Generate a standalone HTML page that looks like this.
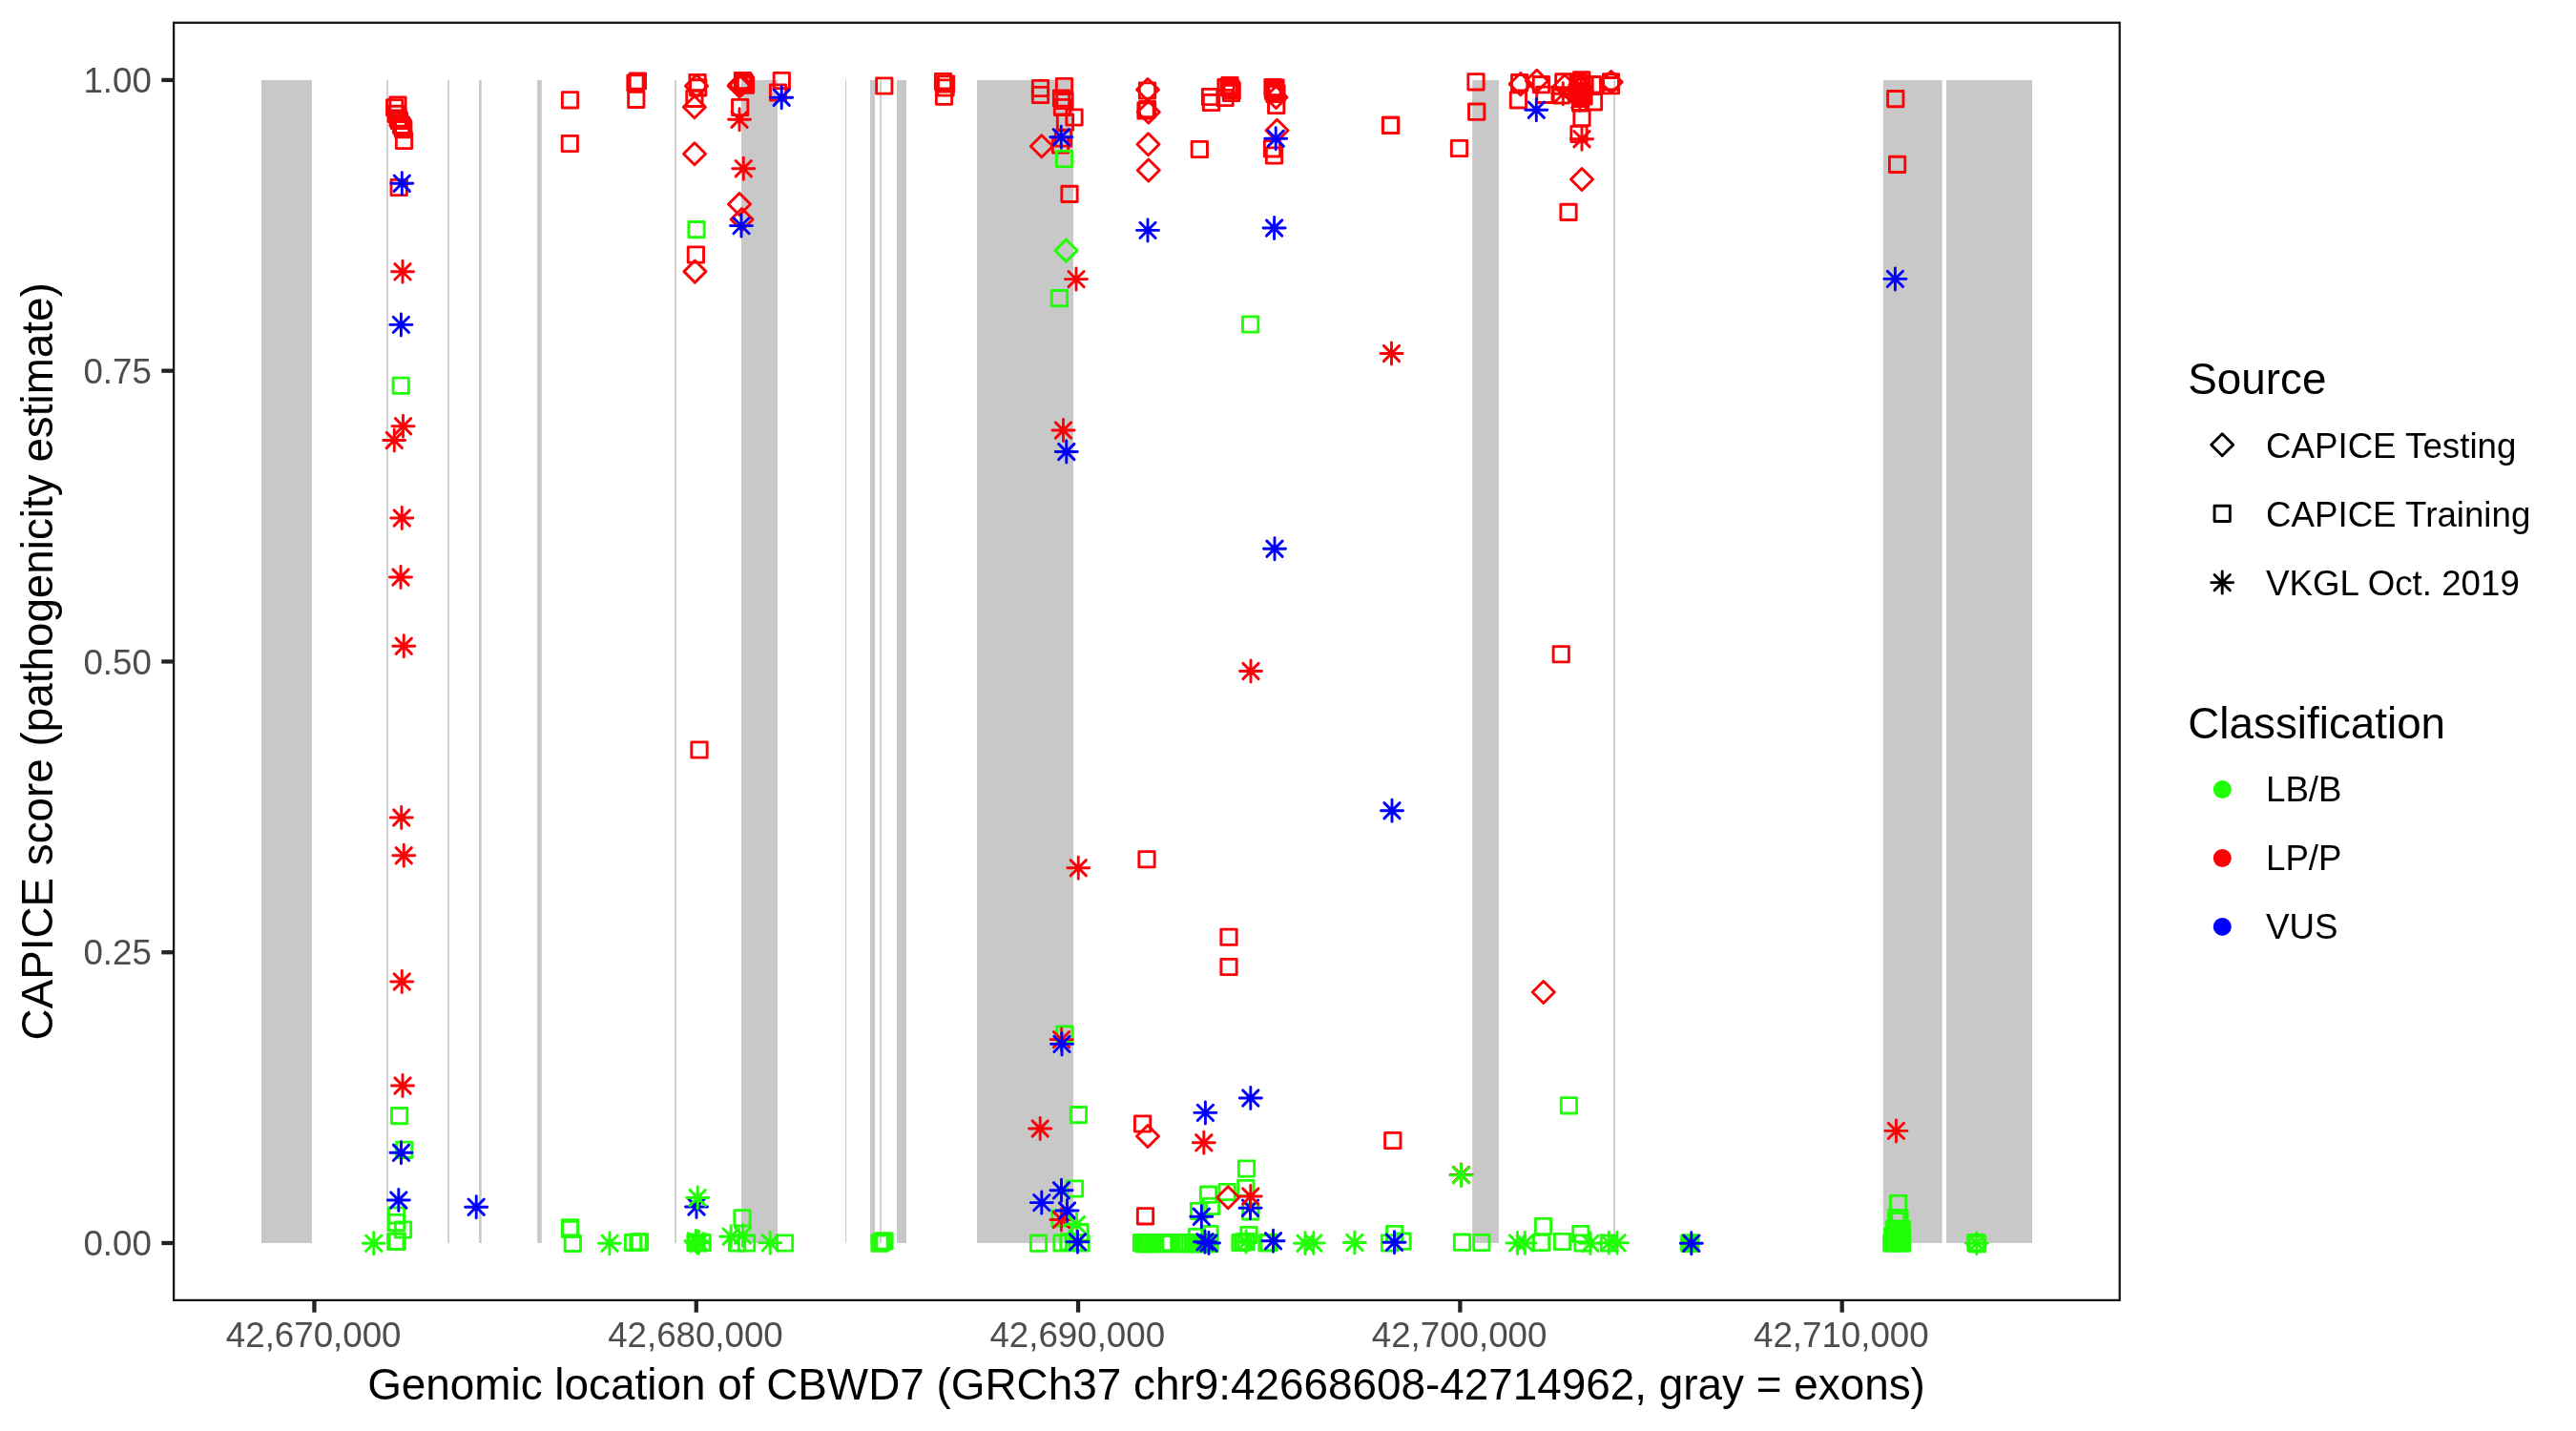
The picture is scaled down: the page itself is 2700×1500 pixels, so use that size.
<!DOCTYPE html>
<html lang="en"><head><meta charset="utf-8"><title>CAPICE score - CBWD7</title><style>html,body{margin:0;padding:0;background:#fff}body{width:2700px;height:1500px;overflow:hidden}</style></head><body>
<svg width="2700" height="1500" viewBox="0 0 2700 1500" style="display:block;will-change:transform">
<rect width="2700" height="1500" fill="#ffffff"/>
<g fill="#c8c8c8">
<rect x="274.00" y="83.90" width="52.90" height="1219.10"/>
<rect x="405.20" y="83.90" width="1.60" height="1219.10"/>
<rect x="469.20" y="83.90" width="1.60" height="1219.10"/>
<rect x="502.10" y="83.90" width="2.60" height="1219.10"/>
<rect x="563.20" y="83.90" width="4.60" height="1219.10"/>
<rect x="707.20" y="83.90" width="1.60" height="1219.10"/>
<rect x="777.00" y="83.90" width="38.00" height="1219.10"/>
<rect x="886.10" y="83.90" width="1.00" height="1219.10"/>
<rect x="912.00" y="83.90" width="5.00" height="1219.10"/>
<rect x="922.30" y="83.90" width="1.60" height="1219.10"/>
<rect x="940.00" y="83.90" width="10.00" height="1219.10"/>
<rect x="1024.00" y="83.90" width="101.00" height="1219.10"/>
<rect x="1543.20" y="83.90" width="27.80" height="1219.10"/>
<rect x="1691.20" y="83.90" width="1.70" height="1219.10"/>
<rect x="1973.80" y="83.90" width="61.80" height="1219.10"/>
<rect x="2040.00" y="83.90" width="90.00" height="1219.10"/>
</g>
<g stroke-width="2.9" stroke-linecap="round" stroke-linejoin="round">
<rect x="412.10" y="396.10" width="16.30" height="16.30" fill="none" stroke="#21ff06"/>
<rect x="1628.10" y="677.60" width="16.30" height="16.30" fill="none" stroke="#fb0207"/>
<rect x="724.85" y="777.85" width="16.30" height="16.30" fill="none" stroke="#fb0207"/>
<rect x="1193.85" y="892.60" width="16.30" height="16.30" fill="none" stroke="#fb0207"/>
<rect x="1279.85" y="974.10" width="16.30" height="16.30" fill="none" stroke="#fb0207"/>
<rect x="1279.85" y="1005.35" width="16.30" height="16.30" fill="none" stroke="#fb0207"/>
<rect x="657.85" y="78.85" width="16.30" height="16.30" fill="none" stroke="#fb0207"/>
<rect x="660.25" y="76.85" width="16.30" height="16.30" fill="none" stroke="#fb0207"/>
<rect x="658.65" y="96.25" width="16.30" height="16.30" fill="none" stroke="#fb0207"/>
<rect x="721.85" y="232.45" width="16.30" height="16.30" fill="none" stroke="#21ff06"/>
<rect x="721.25" y="258.85" width="16.30" height="16.30" fill="none" stroke="#fb0207"/>
<rect x="1102.25" y="304.45" width="16.30" height="16.30" fill="none" stroke="#21ff06"/>
<rect x="1112.85" y="195.25" width="16.30" height="16.30" fill="none" stroke="#fb0207"/>
<rect x="1302.45" y="331.85" width="16.30" height="16.30" fill="none" stroke="#21ff06"/>
<rect x="1449.45" y="123.25" width="16.30" height="16.30" fill="none" stroke="#fb0207"/>
<rect x="1635.85" y="214.25" width="16.30" height="16.30" fill="none" stroke="#fb0207"/>
<rect x="1978.65" y="95.45" width="16.30" height="16.30" fill="none" stroke="#fb0207"/>
<rect x="1980.45" y="164.25" width="16.30" height="16.30" fill="none" stroke="#fb0207"/>
<rect x="408.85" y="101.85" width="16.30" height="16.30" fill="none" stroke="#fb0207"/>
<rect x="405.55" y="104.65" width="16.30" height="16.30" fill="none" stroke="#fb0207"/>
<rect x="407.05" y="111.25" width="16.30" height="16.30" fill="none" stroke="#fb0207"/>
<rect x="409.05" y="115.95" width="16.30" height="16.30" fill="none" stroke="#fb0207"/>
<rect x="410.35" y="118.35" width="16.30" height="16.30" fill="none" stroke="#fb0207"/>
<rect x="412.35" y="123.05" width="16.30" height="16.30" fill="none" stroke="#fb0207"/>
<rect x="413.85" y="125.35" width="16.30" height="16.30" fill="none" stroke="#fb0207"/>
<rect x="414.65" y="127.55" width="16.30" height="16.30" fill="none" stroke="#fb0207"/>
<rect x="415.35" y="139.35" width="16.30" height="16.30" fill="none" stroke="#fb0207"/>
<rect x="589.35" y="96.65" width="16.30" height="16.30" fill="none" stroke="#fb0207"/>
<rect x="589.15" y="142.35" width="16.30" height="16.30" fill="none" stroke="#fb0207"/>
<rect x="410.05" y="188.35" width="16.30" height="16.30" fill="none" stroke="#fb0207"/>
<rect x="722.95" y="78.35" width="16.30" height="16.30" fill="none" stroke="#fb0207"/>
<rect x="723.55" y="83.75" width="16.30" height="16.30" fill="none" stroke="#fb0207"/>
<rect x="719.75" y="95.25" width="16.30" height="16.30" fill="none" stroke="#fb0207"/>
<rect x="770.30" y="76.35" width="16.30" height="16.30" fill="none" stroke="#fb0207"/>
<rect x="771.35" y="77.95" width="16.30" height="16.30" fill="none" stroke="#fb0207"/>
<rect x="772.35" y="79.55" width="16.30" height="16.30" fill="none" stroke="#fb0207"/>
<rect x="773.35" y="81.05" width="16.30" height="16.30" fill="none" stroke="#fb0207"/>
<rect x="767.55" y="104.35" width="16.30" height="16.30" fill="none" stroke="#fb0207"/>
<rect x="811.15" y="76.35" width="16.30" height="16.30" fill="none" stroke="#fb0207"/>
<rect x="807.35" y="88.85" width="16.30" height="16.30" fill="none" stroke="#fb0207"/>
<rect x="918.65" y="81.85" width="16.30" height="16.30" fill="none" stroke="#fb0207"/>
<rect x="980.35" y="77.35" width="16.30" height="16.30" fill="none" stroke="#fb0207"/>
<rect x="983.35" y="79.85" width="16.30" height="16.30" fill="none" stroke="#fb0207"/>
<rect x="982.85" y="83.85" width="16.30" height="16.30" fill="none" stroke="#fb0207"/>
<rect x="981.35" y="93.05" width="16.30" height="16.30" fill="none" stroke="#fb0207"/>
<rect x="1082.35" y="84.35" width="16.30" height="16.30" fill="none" stroke="#fb0207"/>
<rect x="1082.35" y="91.35" width="16.30" height="16.30" fill="none" stroke="#fb0207"/>
<rect x="1107.35" y="82.35" width="16.30" height="16.30" fill="none" stroke="#fb0207"/>
<rect x="1104.35" y="94.85" width="16.30" height="16.30" fill="none" stroke="#fb0207"/>
<rect x="1107.85" y="97.35" width="16.30" height="16.30" fill="none" stroke="#fb0207"/>
<rect x="1105.35" y="104.35" width="16.30" height="16.30" fill="none" stroke="#fb0207"/>
<rect x="1108.35" y="119.85" width="16.30" height="16.30" fill="none" stroke="#fb0207"/>
<rect x="1117.85" y="114.85" width="16.30" height="16.30" fill="none" stroke="#fb0207"/>
<rect x="1106.35" y="136.85" width="16.30" height="16.30" fill="none" stroke="#fb0207"/>
<rect x="1103.35" y="143.85" width="16.30" height="16.30" fill="none" stroke="#fb0207"/>
<rect x="1107.35" y="158.35" width="16.30" height="16.30" fill="none" stroke="#21ff06"/>
<rect x="1194.35" y="86.85" width="16.30" height="16.30" fill="none" stroke="#fb0207"/>
<rect x="1192.85" y="107.85" width="16.30" height="16.30" fill="none" stroke="#fb0207"/>
<rect x="1194.35" y="106.35" width="16.30" height="16.30" fill="none" stroke="#fb0207"/>
<rect x="1249.15" y="148.35" width="16.30" height="16.30" fill="none" stroke="#fb0207"/>
<rect x="1260.35" y="93.35" width="16.30" height="16.30" fill="none" stroke="#fb0207"/>
<rect x="1261.35" y="99.35" width="16.30" height="16.30" fill="none" stroke="#fb0207"/>
<rect x="1276.85" y="83.35" width="16.30" height="16.30" fill="none" stroke="#fb0207"/>
<rect x="1280.85" y="81.35" width="16.30" height="16.30" fill="none" stroke="#fb0207"/>
<rect x="1279.85" y="82.85" width="16.30" height="16.30" fill="none" stroke="#fb0207"/>
<rect x="1281.85" y="84.85" width="16.30" height="16.30" fill="none" stroke="#fb0207"/>
<rect x="1283.05" y="86.85" width="16.30" height="16.30" fill="none" stroke="#fb0207"/>
<rect x="1282.35" y="89.35" width="16.30" height="16.30" fill="none" stroke="#fb0207"/>
<rect x="1275.85" y="94.35" width="16.30" height="16.30" fill="none" stroke="#fb0207"/>
<rect x="1325.85" y="83.35" width="16.30" height="16.30" fill="none" stroke="#fb0207"/>
<rect x="1328.85" y="83.85" width="16.30" height="16.30" fill="none" stroke="#fb0207"/>
<rect x="1327.35" y="86.35" width="16.30" height="16.30" fill="none" stroke="#fb0207"/>
<rect x="1329.85" y="89.85" width="16.30" height="16.30" fill="none" stroke="#fb0207"/>
<rect x="1327.85" y="90.35" width="16.30" height="16.30" fill="none" stroke="#fb0207"/>
<rect x="1326.85" y="87.85" width="16.30" height="16.30" fill="none" stroke="#fb0207"/>
<rect x="1329.55" y="102.35" width="16.30" height="16.30" fill="none" stroke="#fb0207"/>
<rect x="1325.35" y="147.65" width="16.30" height="16.30" fill="none" stroke="#fb0207"/>
<rect x="1327.35" y="154.85" width="16.30" height="16.30" fill="none" stroke="#fb0207"/>
<rect x="1449.35" y="123.15" width="16.30" height="16.30" fill="none" stroke="#fb0207"/>
<rect x="1538.85" y="77.65" width="16.30" height="16.30" fill="none" stroke="#fb0207"/>
<rect x="1539.55" y="109.05" width="16.30" height="16.30" fill="none" stroke="#fb0207"/>
<rect x="1521.35" y="147.35" width="16.30" height="16.30" fill="none" stroke="#fb0207"/>
<rect x="1584.55" y="78.55" width="16.30" height="16.30" fill="none" stroke="#fb0207"/>
<rect x="1583.25" y="96.75" width="16.30" height="16.30" fill="none" stroke="#fb0207"/>
<rect x="1607.25" y="80.55" width="16.30" height="16.30" fill="none" stroke="#fb0207"/>
<rect x="1610.75" y="91.15" width="16.30" height="16.30" fill="none" stroke="#fb0207"/>
<rect x="1630.65" y="77.75" width="16.30" height="16.30" fill="none" stroke="#fb0207"/>
<rect x="1628.15" y="91.65" width="16.30" height="16.30" fill="none" stroke="#fb0207"/>
<rect x="1649.55" y="75.75" width="16.30" height="16.30" fill="none" stroke="#fb0207"/>
<rect x="1649.75" y="79.55" width="16.30" height="16.30" fill="none" stroke="#fb0207"/>
<rect x="1649.05" y="83.05" width="16.30" height="16.30" fill="none" stroke="#fb0207"/>
<rect x="1648.65" y="87.15" width="16.30" height="16.30" fill="none" stroke="#fb0207"/>
<rect x="1649.35" y="91.15" width="16.30" height="16.30" fill="none" stroke="#fb0207"/>
<rect x="1648.35" y="95.15" width="16.30" height="16.30" fill="none" stroke="#fb0207"/>
<rect x="1648.35" y="99.75" width="16.30" height="16.30" fill="none" stroke="#fb0207"/>
<rect x="1645.85" y="77.85" width="16.30" height="16.30" fill="none" stroke="#fb0207"/>
<rect x="1652.85" y="80.85" width="16.30" height="16.30" fill="none" stroke="#fb0207"/>
<rect x="1644.85" y="88.85" width="16.30" height="16.30" fill="none" stroke="#fb0207"/>
<rect x="1651.85" y="92.85" width="16.30" height="16.30" fill="none" stroke="#fb0207"/>
<rect x="1661.15" y="80.55" width="16.30" height="16.30" fill="none" stroke="#fb0207"/>
<rect x="1662.35" y="98.65" width="16.30" height="16.30" fill="none" stroke="#fb0207"/>
<rect x="1680.35" y="77.75" width="16.30" height="16.30" fill="none" stroke="#fb0207"/>
<rect x="1680.35" y="81.55" width="16.30" height="16.30" fill="none" stroke="#fb0207"/>
<rect x="1649.85" y="115.35" width="16.30" height="16.30" fill="none" stroke="#fb0207"/>
<rect x="1646.85" y="132.35" width="16.30" height="16.30" fill="none" stroke="#fb0207"/>
<rect x="410.45" y="1161.45" width="16.30" height="16.30" fill="none" stroke="#21ff06"/>
<rect x="1107.85" y="1075.85" width="16.30" height="16.30" fill="none" stroke="#21ff06"/>
<rect x="1122.25" y="1160.45" width="16.30" height="16.30" fill="none" stroke="#21ff06"/>
<rect x="1189.45" y="1169.85" width="16.30" height="16.30" fill="none" stroke="#fb0207"/>
<rect x="1636.25" y="1150.65" width="16.30" height="16.30" fill="none" stroke="#21ff06"/>
<rect x="415.55" y="1197.15" width="16.30" height="16.30" fill="none" stroke="#21ff06"/>
<rect x="407.35" y="1265.85" width="16.30" height="16.30" fill="none" stroke="#21ff06"/>
<rect x="407.35" y="1273.35" width="16.30" height="16.30" fill="none" stroke="#21ff06"/>
<rect x="414.35" y="1280.85" width="16.30" height="16.30" fill="none" stroke="#21ff06"/>
<rect x="406.65" y="1293.35" width="16.30" height="16.30" fill="none" stroke="#21ff06"/>
<rect x="408.05" y="1293.05" width="16.30" height="16.30" fill="none" stroke="#21ff06"/>
<rect x="589.35" y="1278.65" width="16.30" height="16.30" fill="none" stroke="#21ff06"/>
<rect x="589.35" y="1280.35" width="16.30" height="16.30" fill="none" stroke="#21ff06"/>
<rect x="592.15" y="1295.15" width="16.30" height="16.30" fill="none" stroke="#21ff06"/>
<rect x="655.35" y="1294.35" width="16.30" height="16.30" fill="none" stroke="#21ff06"/>
<rect x="660.85" y="1293.85" width="16.30" height="16.30" fill="none" stroke="#21ff06"/>
<rect x="662.35" y="1293.65" width="16.30" height="16.30" fill="none" stroke="#21ff06"/>
<rect x="721.85" y="1294.85" width="16.30" height="16.30" fill="none" stroke="#21ff06"/>
<rect x="727.85" y="1294.35" width="16.30" height="16.30" fill="none" stroke="#21ff06"/>
<rect x="720.85" y="1294.35" width="16.30" height="16.30" fill="none" stroke="#21ff06"/>
<rect x="769.85" y="1268.65" width="16.30" height="16.30" fill="none" stroke="#21ff06"/>
<rect x="764.35" y="1294.85" width="16.30" height="16.30" fill="none" stroke="#21ff06"/>
<rect x="774.35" y="1294.85" width="16.30" height="16.30" fill="none" stroke="#21ff06"/>
<rect x="814.35" y="1294.85" width="16.30" height="16.30" fill="none" stroke="#21ff06"/>
<rect x="913.85" y="1295.05" width="16.30" height="16.30" fill="none" stroke="#21ff06"/>
<rect x="915.85" y="1293.85" width="16.30" height="16.30" fill="none" stroke="#21ff06"/>
<rect x="917.35" y="1293.05" width="16.30" height="16.30" fill="none" stroke="#21ff06"/>
<rect x="918.85" y="1292.85" width="16.30" height="16.30" fill="none" stroke="#21ff06"/>
<rect x="1118.35" y="1237.85" width="16.30" height="16.30" fill="none" stroke="#21ff06"/>
<rect x="1102.85" y="1268.85" width="16.30" height="16.30" fill="none" stroke="#21ff06"/>
<rect x="1123.85" y="1283.85" width="16.30" height="16.30" fill="none" stroke="#21ff06"/>
<rect x="1080.35" y="1295.05" width="16.30" height="16.30" fill="none" stroke="#21ff06"/>
<rect x="1104.85" y="1294.85" width="16.30" height="16.30" fill="none" stroke="#21ff06"/>
<rect x="1111.85" y="1293.65" width="16.30" height="16.30" fill="none" stroke="#21ff06"/>
<rect x="1124.85" y="1294.85" width="16.30" height="16.30" fill="none" stroke="#21ff06"/>
<rect x="1117.35" y="1294.35" width="16.30" height="16.30" fill="none" stroke="#21ff06"/>
<rect x="1192.35" y="1266.65" width="16.30" height="16.30" fill="none" stroke="#fb0207"/>
<rect x="1298.35" y="1216.85" width="16.30" height="16.30" fill="none" stroke="#21ff06"/>
<rect x="1297.65" y="1237.35" width="16.30" height="16.30" fill="none" stroke="#21ff06"/>
<rect x="1277.85" y="1241.35" width="16.30" height="16.30" fill="none" stroke="#21ff06"/>
<rect x="1258.35" y="1244.05" width="16.30" height="16.30" fill="none" stroke="#21ff06"/>
<rect x="1261.35" y="1256.35" width="16.30" height="16.30" fill="none" stroke="#21ff06"/>
<rect x="1248.35" y="1261.35" width="16.30" height="16.30" fill="none" stroke="#21ff06"/>
<rect x="1302.65" y="1261.85" width="16.30" height="16.30" fill="none" stroke="#21ff06"/>
<rect x="1259.85" y="1285.35" width="16.30" height="16.30" fill="none" stroke="#21ff06"/>
<rect x="1246.35" y="1288.35" width="16.30" height="16.30" fill="none" stroke="#21ff06"/>
<rect x="1300.85" y="1286.35" width="16.30" height="16.30" fill="none" stroke="#21ff06"/>
<rect x="1294.85" y="1293.85" width="16.30" height="16.30" fill="none" stroke="#21ff06"/>
<rect x="1297.85" y="1293.35" width="16.30" height="16.30" fill="none" stroke="#21ff06"/>
<rect x="1291.85" y="1294.35" width="16.30" height="16.30" fill="none" stroke="#21ff06"/>
<rect x="1319.85" y="1294.85" width="16.30" height="16.30" fill="none" stroke="#21ff06"/>
<rect x="1321.85" y="1294.35" width="16.30" height="16.30" fill="none" stroke="#21ff06"/>
<rect x="1188.35" y="1294.45" width="16.30" height="16.30" fill="none" stroke="#21ff06"/>
<rect x="1190.35" y="1295.45" width="16.30" height="16.30" fill="none" stroke="#21ff06"/>
<rect x="1192.35" y="1294.45" width="16.30" height="16.30" fill="none" stroke="#21ff06"/>
<rect x="1194.85" y="1295.45" width="16.30" height="16.30" fill="none" stroke="#21ff06"/>
<rect x="1197.35" y="1294.45" width="16.30" height="16.30" fill="none" stroke="#21ff06"/>
<rect x="1199.85" y="1295.45" width="16.30" height="16.30" fill="none" stroke="#21ff06"/>
<rect x="1202.35" y="1294.45" width="16.30" height="16.30" fill="none" stroke="#21ff06"/>
<rect x="1211.85" y="1295.45" width="16.30" height="16.30" fill="none" stroke="#21ff06"/>
<rect x="1215.35" y="1294.45" width="16.30" height="16.30" fill="none" stroke="#21ff06"/>
<rect x="1218.85" y="1295.45" width="16.30" height="16.30" fill="none" stroke="#21ff06"/>
<rect x="1227.85" y="1294.45" width="16.30" height="16.30" fill="none" stroke="#21ff06"/>
<rect x="1230.35" y="1295.45" width="16.30" height="16.30" fill="none" stroke="#21ff06"/>
<rect x="1232.85" y="1294.45" width="16.30" height="16.30" fill="none" stroke="#21ff06"/>
<rect x="1235.85" y="1295.45" width="16.30" height="16.30" fill="none" stroke="#21ff06"/>
<rect x="1238.85" y="1294.45" width="16.30" height="16.30" fill="none" stroke="#21ff06"/>
<rect x="1241.85" y="1295.45" width="16.30" height="16.30" fill="none" stroke="#21ff06"/>
<rect x="1244.85" y="1294.45" width="16.30" height="16.30" fill="none" stroke="#21ff06"/>
<rect x="1247.85" y="1295.45" width="16.30" height="16.30" fill="none" stroke="#21ff06"/>
<rect x="1250.85" y="1294.45" width="16.30" height="16.30" fill="none" stroke="#21ff06"/>
<rect x="1253.85" y="1295.45" width="16.30" height="16.30" fill="none" stroke="#21ff06"/>
<rect x="1256.85" y="1294.45" width="16.30" height="16.30" fill="none" stroke="#21ff06"/>
<rect x="1259.85" y="1295.45" width="16.30" height="16.30" fill="none" stroke="#21ff06"/>
<rect x="1451.65" y="1187.35" width="16.30" height="16.30" fill="none" stroke="#fb0207"/>
<rect x="1453.55" y="1285.35" width="16.30" height="16.30" fill="none" stroke="#21ff06"/>
<rect x="1448.35" y="1294.85" width="16.30" height="16.30" fill="none" stroke="#21ff06"/>
<rect x="1461.85" y="1293.05" width="16.30" height="16.30" fill="none" stroke="#21ff06"/>
<rect x="1524.35" y="1294.05" width="16.30" height="16.30" fill="none" stroke="#21ff06"/>
<rect x="1544.65" y="1294.35" width="16.30" height="16.30" fill="none" stroke="#21ff06"/>
<rect x="1609.35" y="1277.35" width="16.30" height="16.30" fill="none" stroke="#21ff06"/>
<rect x="1607.35" y="1294.35" width="16.30" height="16.30" fill="none" stroke="#21ff06"/>
<rect x="1629.35" y="1293.35" width="16.30" height="16.30" fill="none" stroke="#21ff06"/>
<rect x="1648.65" y="1285.35" width="16.30" height="16.30" fill="none" stroke="#21ff06"/>
<rect x="1650.85" y="1294.85" width="16.30" height="16.30" fill="none" stroke="#21ff06"/>
<rect x="1678.35" y="1294.85" width="16.30" height="16.30" fill="none" stroke="#21ff06"/>
<rect x="1762.25" y="1295.05" width="16.30" height="16.30" fill="#21ff06" stroke="#21ff06"/>
<rect x="1763.75" y="1295.05" width="16.30" height="16.30" fill="#21ff06" stroke="#21ff06"/>
<rect x="1981.45" y="1253.35" width="16.30" height="16.30" fill="none" stroke="#21ff06"/>
<rect x="1979.65" y="1268.45" width="16.30" height="16.30" fill="none" stroke="#21ff06"/>
<rect x="1982.65" y="1268.45" width="16.30" height="16.30" fill="none" stroke="#21ff06"/>
<rect x="1979.65" y="1271.55" width="16.30" height="16.30" fill="none" stroke="#21ff06"/>
<rect x="1982.65" y="1271.55" width="16.30" height="16.30" fill="none" stroke="#21ff06"/>
<rect x="1980.85" y="1279.95" width="16.30" height="16.30" fill="none" stroke="#21ff06"/>
<rect x="1977.35" y="1280.45" width="16.30" height="16.30" fill="#21ff06" stroke="#21ff06"/>
<rect x="1985.05" y="1280.45" width="16.30" height="16.30" fill="#21ff06" stroke="#21ff06"/>
<rect x="1975.35" y="1287.85" width="16.30" height="16.30" fill="#21ff06" stroke="#21ff06"/>
<rect x="1985.35" y="1287.85" width="16.30" height="16.30" fill="#21ff06" stroke="#21ff06"/>
<rect x="1974.65" y="1295.05" width="16.30" height="16.30" fill="#21ff06" stroke="#21ff06"/>
<rect x="1985.25" y="1295.05" width="16.30" height="16.30" fill="#21ff06" stroke="#21ff06"/>
<rect x="1979.85" y="1291.85" width="16.30" height="16.30" fill="#21ff06" stroke="#21ff06"/>
<rect x="2063.65" y="1294.85" width="16.30" height="16.30" fill="none" stroke="#21ff06"/>
<rect x="2062.65" y="1294.35" width="16.30" height="16.30" fill="none" stroke="#21ff06"/>
<rect x="2064.45" y="1295.45" width="16.30" height="16.30" fill="none" stroke="#21ff06"/>
<path d="M1606.22 1040.00L1617.75 1028.47L1629.28 1040.00L1617.75 1051.53Z" fill="none" stroke="#fb0207"/>
<path d="M716.87 284.60L728.40 273.07L739.93 284.60L728.40 296.13Z" fill="none" stroke="#fb0207"/>
<path d="M763.47 214.00L775.00 202.47L786.53 214.00L775.00 225.53Z" fill="none" stroke="#fb0207"/>
<path d="M766.07 230.00L777.60 218.47L789.13 230.00L777.60 241.53Z" fill="none" stroke="#fb0207"/>
<path d="M1105.87 262.60L1117.40 251.07L1128.93 262.60L1117.40 274.13Z" fill="none" stroke="#21ff06"/>
<path d="M718.47 90.10L730.00 78.57L741.53 90.10L730.00 101.63Z" fill="none" stroke="#fb0207"/>
<path d="M716.37 112.30L727.90 100.77L739.43 112.30L727.90 123.83Z" fill="none" stroke="#fb0207"/>
<path d="M716.47 161.30L728.00 149.77L739.53 161.30L728.00 172.83Z" fill="none" stroke="#fb0207"/>
<path d="M764.07 88.80L775.60 77.27L787.13 88.80L775.60 100.33Z" fill="none" stroke="#fb0207"/>
<path d="M763.27 90.10L774.80 78.57L786.33 90.10L774.80 101.63Z" fill="none" stroke="#fb0207"/>
<path d="M763.67 89.40L775.20 77.87L786.73 89.40L775.20 100.93Z" fill="none" stroke="#fb0207"/>
<path d="M764.47 89.00L776.00 77.47L787.53 89.00L776.00 100.53Z" fill="none" stroke="#fb0207"/>
<path d="M764.97 89.20L776.50 77.67L788.03 89.20L776.50 100.73Z" fill="none" stroke="#fb0207"/>
<path d="M1080.27 153.30L1091.80 141.77L1103.33 153.30L1091.80 164.83Z" fill="none" stroke="#fb0207"/>
<path d="M1191.47 94.00L1203.00 82.47L1214.53 94.00L1203.00 105.53Z" fill="none" stroke="#fb0207"/>
<path d="M1192.27 117.50L1203.80 105.97L1215.33 117.50L1203.80 129.03Z" fill="none" stroke="#fb0207"/>
<path d="M1191.97 151.20L1203.50 139.67L1215.03 151.20L1203.50 162.73Z" fill="none" stroke="#fb0207"/>
<path d="M1192.27 178.50L1203.80 166.97L1215.33 178.50L1203.80 190.03Z" fill="none" stroke="#fb0207"/>
<path d="M1325.97 102.00L1337.50 90.47L1349.03 102.00L1337.50 113.53Z" fill="none" stroke="#fb0207"/>
<path d="M1326.97 136.80L1338.50 125.27L1350.03 136.80L1338.50 148.33Z" fill="none" stroke="#fb0207"/>
<path d="M1646.47 188.00L1658.00 176.47L1669.53 188.00L1658.00 199.53Z" fill="none" stroke="#fb0207"/>
<path d="M1582.17 88.10L1593.70 76.57L1605.23 88.10L1593.70 99.63Z" fill="none" stroke="#fb0207"/>
<path d="M1599.27 84.80L1610.80 73.27L1622.33 84.80L1610.80 96.33Z" fill="none" stroke="#fb0207"/>
<path d="M1628.47 90.00L1640.00 78.47L1651.53 90.00L1640.00 101.53Z" fill="none" stroke="#fb0207"/>
<path d="M1645.47 92.00L1657.00 80.47L1668.53 92.00L1657.00 103.53Z" fill="none" stroke="#fb0207"/>
<path d="M1644.47 100.00L1656.00 88.47L1667.53 100.00L1656.00 111.53Z" fill="none" stroke="#fb0207"/>
<path d="M1677.17 86.00L1688.70 74.47L1700.23 86.00L1688.70 97.53Z" fill="none" stroke="#fb0207"/>
<path d="M1191.47 1191.00L1203.00 1179.47L1214.53 1191.00L1203.00 1202.53Z" fill="none" stroke="#fb0207"/>
<path d="M1275.67 1255.20L1287.20 1243.67L1298.73 1255.20L1287.20 1266.73Z" fill="none" stroke="#fb0207"/>
<path d="M380.17 1303.20H403.23M391.70 1291.67V1314.73M383.55 1295.05L399.85 1311.35M383.55 1311.35L399.85 1295.05" fill="none" stroke="#21ff06"/>
<path d="M401.72 461.50H424.78M413.25 449.97V473.03M405.10 453.35L421.40 469.65M405.10 469.65L421.40 453.35" fill="none" stroke="#fb0207"/>
<path d="M406.27 1258.00H429.33M417.80 1246.47V1269.53M409.65 1249.85L425.95 1266.15M409.65 1266.15L425.95 1249.85" fill="none" stroke="#0000ff"/>
<path d="M408.47 605.00H431.53M420.00 593.47V616.53M411.85 596.85L428.15 613.15M411.85 613.15L428.15 596.85" fill="none" stroke="#fb0207"/>
<path d="M408.87 340.40H431.93M420.40 328.87V351.93M412.25 332.25L428.55 348.55M412.25 348.55L428.55 332.25" fill="none" stroke="#0000ff"/>
<path d="M408.97 1208.30H432.03M420.50 1196.77V1219.83M412.35 1200.15L428.65 1216.45M412.35 1216.45L428.65 1200.15" fill="none" stroke="#0000ff"/>
<path d="M409.22 857.00H432.28M420.75 845.47V868.53M412.60 848.85L428.90 865.15M412.60 865.15L428.90 848.85" fill="none" stroke="#fb0207"/>
<path d="M409.72 543.00H432.78M421.25 531.47V554.53M413.10 534.85L429.40 551.15M413.10 551.15L429.40 534.85" fill="none" stroke="#fb0207"/>
<path d="M409.72 1029.00H432.78M421.25 1017.47V1040.53M413.10 1020.85L429.40 1037.15M413.10 1037.15L429.40 1020.85" fill="none" stroke="#fb0207"/>
<path d="M409.77 192.20H432.83M421.30 180.67V203.73M413.15 184.05L429.45 200.35M413.15 200.35L429.45 184.05" fill="none" stroke="#0000ff"/>
<path d="M410.47 284.80H433.53M422.00 273.27V296.33M413.85 276.65L430.15 292.95M413.85 292.95L430.15 276.65" fill="none" stroke="#fb0207"/>
<path d="M410.47 1138.00H433.53M422.00 1126.47V1149.53M413.85 1129.85L430.15 1146.15M413.85 1146.15L430.15 1129.85" fill="none" stroke="#fb0207"/>
<path d="M410.97 446.75H434.03M422.50 435.22V458.28M414.35 438.60L430.65 454.90M414.35 454.90L430.65 438.60" fill="none" stroke="#fb0207"/>
<path d="M411.72 677.25H434.78M423.25 665.72V688.78M415.10 669.10L431.40 685.40M415.10 685.40L431.40 669.10" fill="none" stroke="#fb0207"/>
<path d="M411.72 896.75H434.78M423.25 885.22V908.28M415.10 888.60L431.40 904.90M415.10 904.90L431.40 888.60" fill="none" stroke="#fb0207"/>
<path d="M487.67 1265.20H510.73M499.20 1253.67V1276.73M491.05 1257.05L507.35 1273.35M491.05 1273.35L507.35 1257.05" fill="none" stroke="#0000ff"/>
<path d="M627.47 1303.20H650.53M639.00 1291.67V1314.73M630.85 1295.05L647.15 1311.35M630.85 1311.35L647.15 1295.05" fill="none" stroke="#21ff06"/>
<path d="M717.97 1300.80H741.03M729.50 1289.27V1312.33M721.35 1292.65L737.65 1308.95M721.35 1308.95L737.65 1292.65" fill="none" stroke="#21ff06"/>
<path d="M718.47 1265.00H741.53M730.00 1253.47V1276.53M721.85 1256.85L738.15 1273.15M721.85 1273.15L738.15 1256.85" fill="none" stroke="#0000ff"/>
<path d="M718.97 1302.20H742.03M730.50 1290.67V1313.73M722.35 1294.05L738.65 1310.35M722.35 1310.35L738.65 1294.05" fill="none" stroke="#21ff06"/>
<path d="M719.67 1255.50H742.73M731.20 1243.97V1267.03M723.05 1247.35L739.35 1263.65M723.05 1263.65L739.35 1247.35" fill="none" stroke="#21ff06"/>
<path d="M720.47 1303.00H743.53M732.00 1291.47V1314.53M723.85 1294.85L740.15 1311.15M723.85 1311.15L740.15 1294.85" fill="none" stroke="#21ff06"/>
<path d="M720.97 1301.80H744.03M732.50 1290.27V1313.33M724.35 1293.65L740.65 1309.95M724.35 1309.95L740.65 1293.65" fill="none" stroke="#21ff06"/>
<path d="M754.67 1296.20H777.73M766.20 1284.67V1307.73M758.05 1288.05L774.35 1304.35M758.05 1304.35L774.35 1288.05" fill="none" stroke="#21ff06"/>
<path d="M763.47 125.20H786.53M775.00 113.67V136.73M766.85 117.05L783.15 133.35M766.85 133.35L783.15 117.05" fill="none" stroke="#fb0207"/>
<path d="M765.47 236.60H788.53M777.00 225.07V248.13M768.85 228.45L785.15 244.75M768.85 244.75L785.15 228.45" fill="none" stroke="#0000ff"/>
<path d="M766.97 1295.00H790.03M778.50 1283.47V1306.53M770.35 1286.85L786.65 1303.15M770.35 1303.15L786.65 1286.85" fill="none" stroke="#21ff06"/>
<path d="M767.77 176.70H790.83M779.30 165.17V188.23M771.15 168.55L787.45 184.85M771.15 184.85L787.45 168.55" fill="none" stroke="#fb0207"/>
<path d="M795.67 1302.80H818.73M807.20 1291.27V1314.33M799.05 1294.65L815.35 1310.95M799.05 1310.95L815.35 1294.65" fill="none" stroke="#21ff06"/>
<path d="M807.67 102.20H830.73M819.20 90.67V113.73M811.05 94.05L827.35 110.35M811.05 110.35L827.35 94.05" fill="none" stroke="#0000ff"/>
<path d="M1078.67 1183.00H1101.73M1090.20 1171.47V1194.53M1082.05 1174.85L1098.35 1191.15M1082.05 1191.15L1098.35 1174.85" fill="none" stroke="#fb0207"/>
<path d="M1080.27 1260.60H1103.33M1091.80 1249.07V1272.13M1083.65 1252.45L1099.95 1268.75M1083.65 1268.75L1099.95 1252.45" fill="none" stroke="#0000ff"/>
<path d="M1100.77 143.70H1123.83M1112.30 132.17V155.23M1104.15 135.55L1120.45 151.85M1104.15 151.85L1120.45 135.55" fill="none" stroke="#0000ff"/>
<path d="M1100.97 1278.50H1124.03M1112.50 1266.97V1290.03M1104.35 1270.35L1120.65 1286.65M1104.35 1286.65L1120.65 1270.35" fill="none" stroke="#fb0207"/>
<path d="M1100.97 1247.80H1124.03M1112.50 1236.27V1259.33M1104.35 1239.65L1120.65 1255.95M1104.35 1255.95L1120.65 1239.65" fill="none" stroke="#0000ff"/>
<path d="M1101.07 1089.60H1124.13M1112.60 1078.07V1101.13M1104.45 1081.45L1120.75 1097.75M1104.45 1097.75L1120.75 1081.45" fill="none" stroke="#fb0207"/>
<path d="M1101.47 1094.40H1124.53M1113.00 1082.87V1105.93M1104.85 1086.25L1121.15 1102.55M1104.85 1102.55L1121.15 1086.25" fill="none" stroke="#0000ff"/>
<path d="M1102.97 451.00H1126.03M1114.50 439.47V462.53M1106.35 442.85L1122.65 459.15M1106.35 459.15L1122.65 442.85" fill="none" stroke="#fb0207"/>
<path d="M1106.22 473.50H1129.28M1117.75 461.97V485.03M1109.60 465.35L1125.90 481.65M1109.60 481.65L1125.90 465.35" fill="none" stroke="#0000ff"/>
<path d="M1106.97 1269.00H1130.03M1118.50 1257.47V1280.53M1110.35 1260.85L1126.65 1277.15M1110.35 1277.15L1126.65 1260.85" fill="none" stroke="#0000ff"/>
<path d="M1116.47 292.60H1139.53M1128.00 281.07V304.13M1119.85 284.45L1136.15 300.75M1119.85 300.75L1136.15 284.45" fill="none" stroke="#fb0207"/>
<path d="M1116.97 1283.50H1140.03M1128.50 1271.97V1295.03M1120.35 1275.35L1136.65 1291.65M1120.35 1291.65L1136.65 1275.35" fill="none" stroke="#21ff06"/>
<path d="M1117.97 1301.80H1141.03M1129.50 1290.27V1313.33M1121.35 1293.65L1137.65 1309.95M1121.35 1309.95L1137.65 1293.65" fill="none" stroke="#0000ff"/>
<path d="M1118.72 909.75H1141.78M1130.25 898.22V921.28M1122.10 901.60L1138.40 917.90M1122.10 917.90L1138.40 901.60" fill="none" stroke="#fb0207"/>
<path d="M1191.47 241.40H1214.53M1203.00 229.87V252.93M1194.85 233.25L1211.15 249.55M1194.85 249.55L1211.15 233.25" fill="none" stroke="#0000ff"/>
<path d="M1247.77 1275.30H1270.83M1259.30 1263.77V1286.83M1251.15 1267.15L1267.45 1283.45M1251.15 1283.45L1267.45 1267.15" fill="none" stroke="#0000ff"/>
<path d="M1250.27 1197.80H1273.33M1261.80 1186.27V1209.33M1253.65 1189.65L1269.95 1205.95M1253.65 1205.95L1269.95 1189.65" fill="none" stroke="#fb0207"/>
<path d="M1251.47 1301.80H1274.53M1263.00 1290.27V1313.33M1254.85 1293.65L1271.15 1309.95M1254.85 1309.95L1271.15 1293.65" fill="none" stroke="#0000ff"/>
<path d="M1251.87 1166.40H1274.93M1263.40 1154.87V1177.93M1255.25 1158.25L1271.55 1174.55M1255.25 1174.55L1271.55 1158.25" fill="none" stroke="#0000ff"/>
<path d="M1255.47 1303.00H1278.53M1267.00 1291.47V1314.53M1258.85 1294.85L1275.15 1311.15M1258.85 1311.15L1275.15 1294.85" fill="none" stroke="#0000ff"/>
<path d="M1294.47 1301.50H1317.53M1306.00 1289.97V1313.03M1297.85 1293.35L1314.15 1309.65M1297.85 1309.65L1314.15 1293.35" fill="none" stroke="#21ff06"/>
<path d="M1298.97 1266.20H1322.03M1310.50 1254.67V1277.73M1302.35 1258.05L1318.65 1274.35M1302.35 1274.35L1318.65 1258.05" fill="none" stroke="#0000ff"/>
<path d="M1299.27 1151.00H1322.33M1310.80 1139.47V1162.53M1302.65 1142.85L1318.95 1159.15M1302.65 1159.15L1318.95 1142.85" fill="none" stroke="#0000ff"/>
<path d="M1299.27 1254.00H1322.33M1310.80 1242.47V1265.53M1302.65 1245.85L1318.95 1262.15M1302.65 1262.15L1318.95 1245.85" fill="none" stroke="#fb0207"/>
<path d="M1299.47 703.50H1322.53M1311.00 691.97V715.03M1302.85 695.35L1319.15 711.65M1302.85 711.65L1319.15 695.35" fill="none" stroke="#fb0207"/>
<path d="M1322.97 1300.80H1346.03M1334.50 1289.27V1312.33M1326.35 1292.65L1342.65 1308.95M1326.35 1308.95L1342.65 1292.65" fill="none" stroke="#0000ff"/>
<path d="M1324.07 239.00H1347.13M1335.60 227.47V250.53M1327.45 230.85L1343.75 247.15M1327.45 247.15L1343.75 230.85" fill="none" stroke="#0000ff"/>
<path d="M1324.47 575.25H1347.53M1336.00 563.72V586.78M1327.85 567.10L1344.15 583.40M1327.85 583.40L1344.15 567.10" fill="none" stroke="#0000ff"/>
<path d="M1325.67 145.20H1348.73M1337.20 133.67V156.73M1329.05 137.05L1345.35 153.35M1329.05 153.35L1345.35 137.05" fill="none" stroke="#0000ff"/>
<path d="M1356.47 1303.20H1379.53M1368.00 1291.67V1314.73M1359.85 1295.05L1376.15 1311.35M1359.85 1311.35L1376.15 1295.05" fill="none" stroke="#21ff06"/>
<path d="M1365.27 1303.00H1388.33M1376.80 1291.47V1314.53M1368.65 1294.85L1384.95 1311.15M1368.65 1311.15L1384.95 1294.85" fill="none" stroke="#21ff06"/>
<path d="M1408.27 1302.50H1431.33M1419.80 1290.97V1314.03M1411.65 1294.35L1427.95 1310.65M1411.65 1310.65L1427.95 1294.35" fill="none" stroke="#21ff06"/>
<path d="M1446.97 370.50H1470.03M1458.50 358.97V382.03M1450.35 362.35L1466.65 378.65M1450.35 378.65L1466.65 362.35" fill="none" stroke="#fb0207"/>
<path d="M1447.47 849.75H1470.53M1459.00 838.22V861.28M1450.85 841.60L1467.15 857.90M1450.85 857.90L1467.15 841.60" fill="none" stroke="#0000ff"/>
<path d="M1449.97 1302.30H1473.03M1461.50 1290.77V1313.83M1453.35 1294.15L1469.65 1310.45M1453.35 1310.45L1469.65 1294.15" fill="none" stroke="#0000ff"/>
<path d="M1519.97 1231.40H1543.03M1531.50 1219.87V1242.93M1523.35 1223.25L1539.65 1239.55M1523.35 1239.55L1539.65 1223.25" fill="none" stroke="#fb0207"/>
<path d="M1519.97 1231.90H1543.03M1531.50 1220.37V1243.43M1523.35 1223.75L1539.65 1240.05M1523.35 1240.05L1539.65 1223.75" fill="none" stroke="#21ff06"/>
<path d="M1578.97 1303.00H1602.03M1590.50 1291.47V1314.53M1582.35 1294.85L1598.65 1311.15M1582.35 1311.15L1598.65 1294.85" fill="none" stroke="#21ff06"/>
<path d="M1586.67 1303.00H1609.73M1598.20 1291.47V1314.53M1590.05 1294.85L1606.35 1311.15M1590.05 1311.15L1606.35 1294.85" fill="none" stroke="#21ff06"/>
<path d="M1598.77 115.20H1621.83M1610.30 103.67V126.73M1602.15 107.05L1618.45 123.35M1602.15 123.35L1618.45 107.05" fill="none" stroke="#0000ff"/>
<path d="M1626.77 98.30H1649.83M1638.30 86.77V109.83M1630.15 90.15L1646.45 106.45M1630.15 106.45L1646.45 90.15" fill="none" stroke="#fb0207"/>
<path d="M1644.27 104.90H1667.33M1655.80 93.37V116.43M1647.65 96.75L1663.95 113.05M1647.65 113.05L1663.95 96.75" fill="none" stroke="#fb0207"/>
<path d="M1645.77 94.80H1668.83M1657.30 83.27V106.33M1649.15 86.65L1665.45 102.95M1649.15 102.95L1665.45 86.65" fill="none" stroke="#fb0207"/>
<path d="M1646.47 145.70H1669.53M1658.00 134.17V157.23M1649.85 137.55L1666.15 153.85M1649.85 153.85L1666.15 137.55" fill="none" stroke="#fb0207"/>
<path d="M1655.47 1303.20H1678.53M1667.00 1291.67V1314.73M1658.85 1295.05L1675.15 1311.35M1658.85 1311.35L1675.15 1295.05" fill="none" stroke="#21ff06"/>
<path d="M1674.77 1302.80H1697.83M1686.30 1291.27V1314.33M1678.15 1294.65L1694.45 1310.95M1678.15 1310.95L1694.45 1294.65" fill="none" stroke="#21ff06"/>
<path d="M1683.47 1302.80H1706.53M1695.00 1291.27V1314.33M1686.85 1294.65L1703.15 1310.95M1686.85 1310.95L1703.15 1294.65" fill="none" stroke="#21ff06"/>
<path d="M1761.27 1303.20H1784.33M1772.80 1291.67V1314.73M1764.65 1295.05L1780.95 1311.35M1764.65 1311.35L1780.95 1295.05" fill="none" stroke="#0000ff"/>
<path d="M1974.87 292.40H1997.93M1986.40 280.87V303.93M1978.25 284.25L1994.55 300.55M1978.25 300.55L1994.55 284.25" fill="none" stroke="#0000ff"/>
<path d="M1975.87 1185.40H1998.93M1987.40 1173.87V1196.93M1979.25 1177.25L1995.55 1193.55M1979.25 1193.55L1995.55 1177.25" fill="none" stroke="#fb0207"/>
<path d="M2060.27 1303.20H2083.33M2071.80 1291.67V1314.73M2063.65 1295.05L2079.95 1311.35M2063.65 1311.35L2079.95 1295.05" fill="none" stroke="#21ff06"/>
</g>
<rect x="182.1" y="23.8" width="2039.60" height="1339.10" fill="none" stroke="#161616" stroke-width="2.3"/>
<g stroke="#222222" stroke-width="4.3">
<path d="M169.3 1303.00H181.10"/>
<path d="M169.3 998.23H181.10"/>
<path d="M169.3 693.45H181.10"/>
<path d="M169.3 388.68H181.10"/>
<path d="M169.3 83.90H181.10"/>
<path d="M329.45 1363.90V1375.7"/>
<path d="M729.76 1363.90V1375.7"/>
<path d="M1130.07 1363.90V1375.7"/>
<path d="M1530.38 1363.90V1375.7"/>
<path d="M1930.69 1363.90V1375.7"/>
</g>
<g font-family="Liberation Sans, Arial, Helvetica, sans-serif" font-size="36.7" fill="#4d4d4d">
<text x="158.8" y="1316.20" text-anchor="end">0.00</text>
<text x="158.8" y="1011.43" text-anchor="end">0.25</text>
<text x="158.8" y="706.65" text-anchor="end">0.50</text>
<text x="158.8" y="401.88" text-anchor="end">0.75</text>
<text x="158.8" y="97.10" text-anchor="end">1.00</text>
<text x="328.65" y="1412" text-anchor="middle">42,670,000</text>
<text x="728.96" y="1412" text-anchor="middle">42,680,000</text>
<text x="1129.27" y="1412" text-anchor="middle">42,690,000</text>
<text x="1529.58" y="1412" text-anchor="middle">42,700,000</text>
<text x="1929.89" y="1412" text-anchor="middle">42,710,000</text>
</g>
<g font-family="Liberation Sans, Arial, Helvetica, sans-serif" font-size="45.8" fill="#000000">
<text x="1201.5" y="1467.3" font-size="45.86" text-anchor="middle">Genomic location of CBWD7 (GRCh37 chr9:42668608-42714962, gray = exons)</text>
<text transform="translate(54.9 693.35) rotate(-90)" text-anchor="middle">CAPICE score (pathogenicity estimate)</text>
<text x="2293.3" y="412.7">Source</text>
<text x="2293.3" y="773.8">Classification</text>
</g>
<g font-family="Liberation Sans, Arial, Helvetica, sans-serif" font-size="36.7" fill="#000000">
<text x="2375.0" y="479.8">CAPICE Testing</text>
<text x="2375.0" y="552.3">CAPICE Training</text>
<text x="2375.0" y="623.8">VKGL Oct. 2019</text>
<text x="2375.0" y="840.2">LB/B</text>
<text x="2375.0" y="912.4">LP/P</text>
<text x="2375.0" y="984.4">VUS</text>
</g>
<g stroke-width="2.9" stroke-linecap="round" stroke-linejoin="round">
<path d="M2317.67 466.20L2329.20 454.67L2340.73 466.20L2329.20 477.73Z" fill="none" stroke="#000"/>
<rect x="2321.05" y="530.25" width="16.30" height="16.30" fill="none" stroke="#000"/>
<path d="M2317.67 610.60H2340.73M2329.20 599.07V622.13M2321.05 602.45L2337.35 618.75M2321.05 618.75L2337.35 602.45" fill="none" stroke="#000"/>
</g>
<circle cx="2329.3" cy="827.5" r="9.5" fill="#21ff06"/>
<circle cx="2329.3" cy="899.5" r="9.5" fill="#fb0207"/>
<circle cx="2329.3" cy="971.4" r="9.5" fill="#0000ff"/>
</svg>
</body></html>
